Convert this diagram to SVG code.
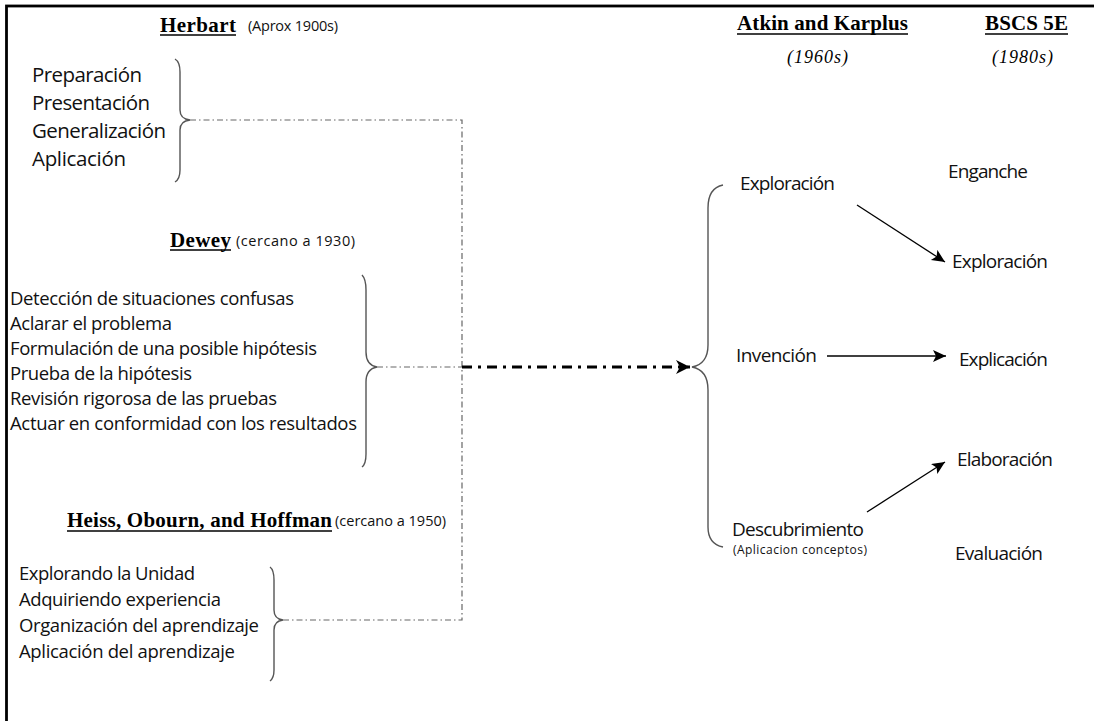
<svg xmlns="http://www.w3.org/2000/svg" width="1094" height="721" viewBox="0 0 1094 721">
<style>
.hd{font-family:"Liberation Serif",serif;font-weight:bold;font-size:21px;fill:#000;}
.yr{font-family:"Liberation Serif",serif;font-style:italic;font-size:18px;fill:#000;}
.sm{font-family:"Open Sans",sans-serif;font-size:14.5px;fill:#111;}
.it{font-family:"Open Sans",sans-serif;fill:#111;}
.ul{stroke:#000;stroke-width:1.3;}
.br{fill:none;stroke:#555;stroke-width:1.4;}
.thin{fill:none;stroke:#666;stroke-width:1.2;stroke-dasharray:6 3 1.5 3;}
.thick{fill:none;stroke:#000;stroke-width:3.2;stroke-dasharray:10 6 3 6;}
.arr{fill:none;stroke:#000;stroke-width:1.3;}
</style>
<defs>
<marker id="ah" markerUnits="userSpaceOnUse" markerWidth="16" markerHeight="14" refX="13" refY="6" orient="auto">
<path d="M0,0 L13,6 L0,12 L3,6 Z" fill="#000"/>
</marker>
<marker id="ahb" markerUnits="userSpaceOnUse" markerWidth="18" markerHeight="16" refX="14" refY="7" orient="auto">
<path d="M0,0 L14,7 L0,14 L4,7 Z" fill="#000"/>
</marker>
</defs>
<rect width="1094" height="721" fill="#fff"/>
<rect x="6.5" y="6" width="1200" height="800" fill="none" stroke="#000" stroke-width="2.8"/>

<g id="herbart">
<text class="hd" x="160" y="32" textLength="76">Herbart</text>
<line class="ul" x1="160" y1="35" x2="236" y2="35"/>
<text class="sm" x="248" y="31" font-size="13.5" textLength="90">(Aprox 1900s)</text>
<text class="it" x="32" y="82" font-size="20.5" textLength="110">Preparación</text>
<text class="it" x="32" y="110" font-size="20.5" textLength="118">Presentación</text>
<text class="it" x="32" y="138" font-size="20.5" textLength="134">Generalización</text>
<text class="it" x="32" y="166" font-size="20.5" textLength="94">Aplicación</text>
<path class="br" d="M175,59 Q180,62 180,72 L180,110 Q180,119 190,120 Q180,121 180,130 L180,170 Q180,179 175,182"/>
</g>

<g id="dewey">
<text class="hd" x="170" y="247" textLength="61">Dewey</text>
<line class="ul" x1="170" y1="250" x2="231" y2="250"/>
<text class="sm" x="236" y="246" textLength="119">(cercano a 1930)</text>
<text class="it" x="10" y="305" font-size="18.5" textLength="284">Detección de situaciones confusas</text>
<text class="it" x="10" y="330" font-size="18.5" textLength="162">Aclarar el problema</text>
<text class="it" x="10" y="355" font-size="18.5" textLength="307">Formulación de una posible hipótesis</text>
<text class="it" x="10" y="380" font-size="18.5" textLength="182">Prueba de la hipótesis</text>
<text class="it" x="10" y="405" font-size="18.5" textLength="267">Revisión rigorosa de las pruebas</text>
<text class="it" x="10" y="430" font-size="18.5" textLength="347">Actuar en conformidad con los resultados</text>
<path class="br" d="M362,275 Q366,279 366,290 L366,352 Q366,365 377,367 Q366,369 366,382 L366,454 Q366,464 362,467"/>
</g>

<g id="heiss">
<text class="hd" x="67" y="527" textLength="265">Heiss, Obourn, and Hoffman</text>
<line class="ul" x1="67" y1="531" x2="332" y2="531"/>
<text class="sm" x="335" y="526" textLength="111">(cercano a 1950)</text>
<text class="it" x="19" y="580" font-size="18.5" textLength="176">Explorando la Unidad</text>
<text class="it" x="19" y="606" font-size="18.5" textLength="202">Adquiriendo experiencia</text>
<text class="it" x="19" y="632" font-size="18.5" textLength="240">Organización del aprendizaje</text>
<text class="it" x="19" y="658" font-size="18.5" textLength="216">Aplicación del aprendizaje</text>
<path class="br" d="M270,567 Q274,570 274,580 L274,610 Q274,619 283,620 Q274,621 274,630 L274,670 Q274,678 270,681"/>
</g>

<g id="atkin">
<text class="hd" x="737" y="30" textLength="171">Atkin and Karplus</text>
<line class="ul" x1="737" y1="34" x2="908" y2="34"/>
<text class="yr" x="787" y="63" textLength="61">(1960s)</text>
<text class="it" x="740" y="190" font-size="19" textLength="95">Exploración</text>
<text class="it" x="736" y="362" font-size="19" textLength="81">Invención</text>
<text class="it" x="732" y="536" font-size="19" textLength="132">Descubrimiento</text>
<text class="it" x="733" y="554" font-size="12" textLength="134">(Aplicacion conceptos)</text>
<path class="br" d="M723,185 Q708,188 708,208 L708,345 Q708,364 692,367 Q708,370 708,390 L708,527 Q708,544 723,547"/>
</g>

<g id="bscs">
<text class="hd" x="985" y="30" textLength="83">BSCS 5E</text>
<line class="ul" x1="985" y1="34" x2="1068" y2="34"/>
<text class="yr" x="992" y="63" textLength="61">(1980s)</text>
<text class="it" x="948" y="178" font-size="19" textLength="80">Enganche</text>
<text class="it" x="952" y="268" font-size="19" textLength="96">Exploración</text>
<text class="it" x="959" y="366" font-size="19" textLength="89">Explicación</text>
<text class="it" x="957" y="466" font-size="19" textLength="96">Elaboración</text>
<text class="it" x="955" y="560" font-size="19" textLength="88">Evaluación</text>
</g>

<g id="connectors">
<polyline class="thin" points="190,120 462,120 462,620 283,620"/>
<line class="thin" x1="377" y1="367" x2="462" y2="367"/>
<line class="thick" x1="462" y1="367" x2="690" y2="367" marker-end="url(#ahb)"/>
<line class="arr" x1="857" y1="205" x2="945" y2="262" marker-end="url(#ah)"/>
<line class="arr" x1="827" y1="356" x2="946" y2="356" marker-end="url(#ah)"/>
<line class="arr" x1="867" y1="512" x2="945" y2="462" marker-end="url(#ah)"/>
</g>
</svg>
